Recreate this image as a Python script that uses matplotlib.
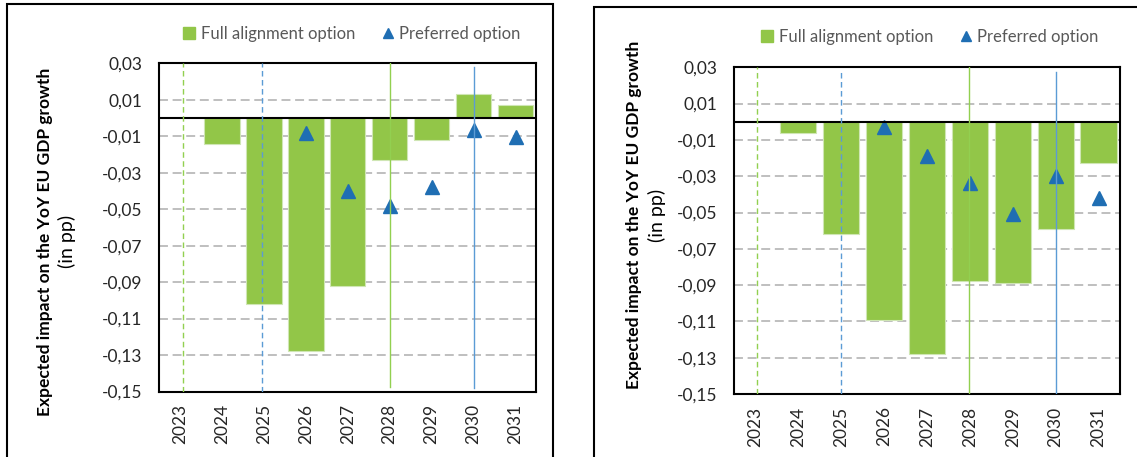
import matplotlib
matplotlib.use('Agg')
import matplotlib.pyplot as plt
from matplotlib.patches import Rectangle
from matplotlib.lines import Line2D

plt.rcParams['font.family'] = ['Lato', 'DejaVu Sans']

years = ['2023', '2024', '2025', '2026', '2027', '2028', '2029', '2030', '2031']

# left panel
full_left = [None, -0.014, -0.102, -0.128, -0.092, -0.023, -0.012, 0.013, 0.007]
pref_left = [None, None, None, -0.008, -0.040, -0.048, -0.038, -0.0065, -0.0105]

# right panel
full_right = [None, -0.006, -0.062, -0.109, -0.128, -0.088, -0.089, -0.059, -0.023]
pref_right = [None, None, None, -0.003, -0.019, -0.034, -0.051, -0.030, -0.042]

yticks = [0.03, 0.01, -0.01, -0.03, -0.05, -0.07, -0.09, -0.11, -0.13, -0.15]

GREEN = '#92c648'
BLUE = '#1f6eb3'
LINE_GREEN = '#92d050'
LINE_BLUE = '#5b9bd5'

W, H = 1137, 457
fig = plt.figure(figsize=(W / 100, H / 100), dpi=100)


def fx(px):
    return px / W


def fy(py):
    return 1 - py / H


def panel(rect, full, pref, vlines, leg_x, leg_y):
    ax = fig.add_axes(rect)
    x = list(range(len(years)))
    bx = [i for i, v in zip(x, full) if v is not None]
    bv = [v for v in full if v is not None]
    px_ = [i for i, v in zip(x, pref) if v is not None]
    pv = [v for v in pref if v is not None]

    for t in yticks[1:-1]:
        ax.axhline(t, color='#bfbfbf', lw=1.4, dashes=(4.6, 2.4), zorder=1)
    ax.bar(bx, bv, width=0.845, color=GREEN, edgecolor='#cfe6b4', linewidth=0.8, zorder=2)
    ax.plot(px_, pv, ls='none', marker='^', ms=10, color=BLUE, zorder=3)
    ax.axhline(0, color='black', lw=1.5, zorder=4)
    for xv, col, ls, y0, y1 in vlines:
        ax.axvline(xv, ymin=y0, ymax=y1, color=col, lw=1.0,
                   dashes=(4, 2.5) if ls == '--' else (None, None), zorder=5)

    ax.set_xlim(-0.5, len(years) - 0.5)
    ax.set_ylim(-0.15, 0.03)
    ax.set_yticks(yticks)
    ax.set_yticklabels([f'{t:.2f}'.replace('.', ',') for t in yticks], fontsize=12.5, color='#262626')
    ax.set_xticks(x)
    ax.set_xticklabels(years, rotation=90, fontsize=12.5, color='#262626')
    ax.tick_params(axis='y', length=0, pad=12)
    ax.tick_params(axis='x', length=0, pad=9)
    for s in ax.spines.values():
        s.set_linewidth(1.5)
        s.set_color('black')

    handles = [Line2D([], [], ls='none', marker='s', ms=8, color=GREEN),
               Line2D([], [], ls='none', marker='^', ms=7, color=BLUE)]
    ax.legend(handles, ['Full alignment option', 'Preferred option'], ncol=2,
              loc='center', bbox_to_anchor=(leg_x, leg_y), frameon=False,
              fontsize=12, labelcolor='#595959', handlelength=0.7,
              handletextpad=0.35, columnspacing=1.6, borderaxespad=0)
    return ax


panel([fx(159), fy(391.5), fx(536.5) - fx(159), fy(63.3) - fy(391.5)],
      full_left, pref_left,
      [(0.08, LINE_GREEN, '--', 0, 1), (1.95, LINE_BLUE, '--', 0, 1),
       (5.0, LINE_GREEN, '-', 0.013, 1), (7.0, LINE_BLUE, '-', 0.012, 0.99)],
      0.511, 1.089)

panel([fx(734), fy(394), fx(1120) - fx(734), fy(67.3) - fy(394)],
      full_right, pref_right,
      [(0.03, LINE_GREEN, '--', 0, 1), (2.0, LINE_BLUE, '--', 0, 0.99),
       (4.97, LINE_GREEN, '-', 0, 1), (7.0, LINE_BLUE, '-', 0, 0.985)],
      0.508, 1.092)

# y labels
for xl1, xl2, yc in [(45, 67, 241.7), (634, 657, 215)]:
    fig.text(fx(xl1), fy(yc), 'Expected impact on the YoY EU GDP growth', rotation=90,
             ha='center', va='center', fontsize=12.5, fontweight='bold', color='black')
    fig.text(fx(xl2), fy(yc), '(in pp)', rotation=90, ha='center', va='center',
             fontsize=14, color='black')

# outer frames
fig.patches.append(Rectangle((fx(7), fy(470)), fx(552.7) - fx(7), fy(4) - fy(470),
                             transform=fig.transFigure, fill=False, lw=1.5, ec='black'))
fig.patches.append(Rectangle((fx(594.3), fy(470)), fx(1150) - fx(594.3), fy(6.7) - fy(470),
                             transform=fig.transFigure, fill=False, lw=1.5, ec='black'))

fig.savefig('out.png', dpi=100)
